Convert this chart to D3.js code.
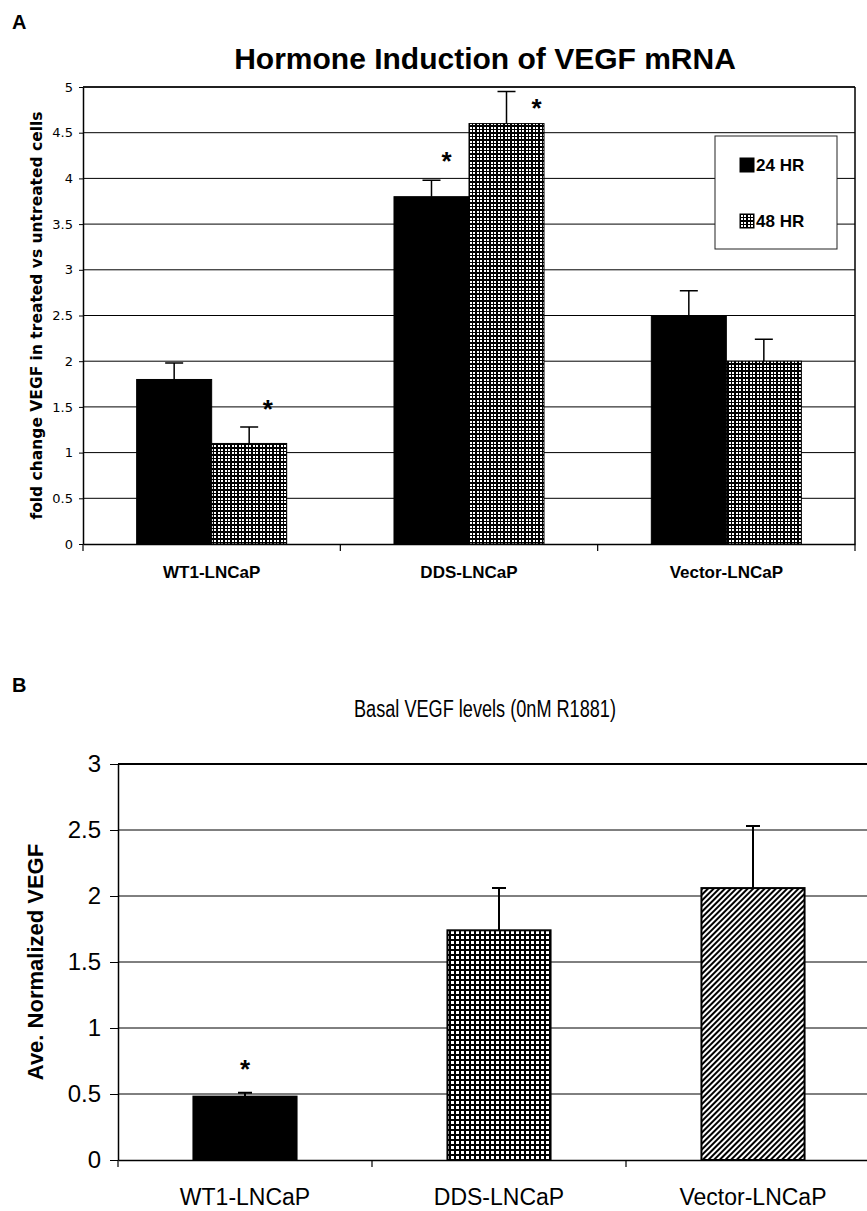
<!DOCTYPE html>
<html>
<head>
<meta charset="utf-8">
<script src="https://cdn.jsdelivr.net/npm/d3@7"></script>
<style>
body { margin: 0; background: #fff; }
svg { display: block; }
</style>
</head>
<body>
<div id="chart"></div>
<script>
// Dados - painel A
var groups = ["WT1-LNCaP", "DDS-LNCaP", "Vector-LNCaP"];
var series = ["24 HR", "48 HR"];
var hr24 = [1.8, 3.8, 2.5];
var hr24Err = [0.18, 0.18, 0.27];
var hr48 = [1.1, 4.6, 2.0];
var hr48Err = [0.18, 0.35, 0.24];
var yTicksA = [0, 0.5, 1, 1.5, 2, 2.5, 3, 3.5, 4, 4.5, 5];
var starGroupsA = ["WT1-LNCaP", "DDS-LNCaP", "DDS-LNCaP"];
var starSeriesA = ["48 HR", "24 HR", "48 HR"];
var starValuesA = [1.54, 4.25, 4.83];

// Dados - painel B
var basal = [0.48, 1.74, 2.06];
var basalErr = [0.03, 0.32, 0.47];
var yTicksB = [0, 0.5, 1, 1.5, 2, 2.5, 3];
var starGroupsB = ["WT1-LNCaP"];
var starValuesB = [0.73];

var svgWidth = 867, svgHeight = 1211;

var svg = d3.select("#chart").append("svg")
    .attr("width", svgWidth)
    .attr("height", svgHeight)
    .style("background", "#fff");

// Padroes
var defs = svg.append("defs");

var pA = defs.append("pattern").attr("id", "checkA")
    .attr("patternUnits", "userSpaceOnUse")
    .attr("width", 7).attr("height", 7);
pA.append("rect").attr("width", 7).attr("height", 7).attr("fill", "#000");
[[1, 1], [4, 1], [1, 4], [4, 4]].forEach(function (p) {
    pA.append("rect").attr("x", p[0]).attr("y", p[1])
        .attr("width", 2).attr("height", 2).attr("fill", "#fff");
});

var pB = defs.append("pattern").attr("id", "checkB")
    .attr("patternUnits", "userSpaceOnUse")
    .attr("width", 5).attr("height", 5);
pB.append("rect").attr("width", 5).attr("height", 5).attr("fill", "#000");
pB.append("rect").attr("x", 1).attr("y", 1).attr("width", 3).attr("height", 3).attr("fill", "#fff");

var pH = defs.append("pattern").attr("id", "hatchB")
    .attr("patternUnits", "userSpaceOnUse")
    .attr("width", 4).attr("height", 4)
    .attr("patternTransform", "rotate(45)");
pH.append("rect").attr("width", 4).attr("height", 4).attr("fill", "#fff");
pH.append("rect").attr("width", 2).attr("height", 4).attr("fill", "#000");

var fillA = { "24 HR": "#000", "48 HR": "url(#checkA)" };
var fillB = ["#000", "url(#checkB)", "url(#hatchB)"];

// ---------------- Painel A ----------------
var marginA = { top: 87, left: 83, right: 855, bottom: 544 };

svg.append("text")
    .attr("x", 12).attr("y", 29)
    .style("font-family", "Liberation Sans, Arial, sans-serif")
    .style("font-weight", "bold").style("font-size", "20px")
    .text("A");

svg.append("text")
    .attr("x", 485).attr("y", 69)
    .attr("text-anchor", "middle")
    .style("font-family", "Liberation Sans, Arial, sans-serif")
    .style("font-weight", "bold").style("font-size", "30px")
    .text("Hormone Induction of VEGF mRNA");

var xA = d3.scaleBand()
    .domain(groups)
    .range([marginA.left, marginA.right])
    .paddingInner(0.417)
    .paddingOuter(0.2085);

var xSubA = d3.scaleBand()
    .domain(series)
    .range([0, xA.bandwidth()]);

var yA = d3.scaleLinear()
    .domain([0, 5])
    .range([marginA.bottom, marginA.top]);

var gA = svg.append("g");

// grade
gA.selectAll("line.grid")
    .data(yTicksA.slice(1))
    .enter().append("line")
    .attr("class", "grid")
    .attr("x1", marginA.left).attr("x2", marginA.right)
    .attr("y1", d => yA(d)).attr("y2", d => yA(d))
    .attr("stroke", "#000").attr("stroke-width", 1);

// borda direita
gA.append("line")
    .attr("x1", marginA.right).attr("x2", marginA.right)
    .attr("y1", marginA.top).attr("y2", marginA.bottom)
    .attr("stroke", "#000").attr("stroke-width", 1.5);

// barras
var dataA = [];
groups.forEach(function (g, i) {
    dataA.push({ group: g, series: "24 HR", value: hr24[i], err: hr24Err[i] });
    dataA.push({ group: g, series: "48 HR", value: hr48[i], err: hr48Err[i] });
});

gA.selectAll("rect.bar")
    .data(dataA)
    .enter().append("rect")
    .attr("class", "bar")
    .attr("x", d => xA(d.group) + xSubA(d.series))
    .attr("y", d => yA(d.value))
    .attr("width", xSubA.bandwidth())
    .attr("height", d => yA(0) - yA(d.value))
    .attr("fill", d => fillA[d.series])
    .attr("stroke", "#000").attr("stroke-width", 1);

// barras de erro
gA.selectAll("path.err")
    .data(dataA)
    .enter().append("path")
    .attr("class", "err")
    .attr("fill", "none").attr("stroke", "#000").attr("stroke-width", 1.5)
    .attr("d", function (d) {
        var cx = xA(d.group) + xSubA(d.series) + xSubA.bandwidth() / 2;
        var top = yA(d.value + d.err);
        return `M ${cx},${yA(d.value)} L ${cx},${top} M ${cx - 9},${top} L ${cx + 9},${top}`;
    });

// asteriscos
var starShiftA = [0.75, 0.7, 0.9];
gA.selectAll("text.star")
    .data(starValuesA)
    .enter().append("text")
    .attr("class", "star")
    .attr("x", (d, i) => xA(starGroupsA[i]) + xSubA(starSeriesA[i]) + xSubA.bandwidth() * starShiftA[i])
    .attr("y", d => yA(d))
    .attr("dy", "0.57em")
    .attr("text-anchor", "middle")
    .style("font-family", "Liberation Sans, Arial, sans-serif")
    .style("font-weight", "bold").style("font-size", "26px")
    .text("*");

// eixo y
var axisA = gA.append("g")
    .attr("transform", "translate(" + marginA.left + ",0)")
    .call(d3.axisLeft(yA).tickValues(yTicksA).tickFormat(d3.format("~g"))
        .tickSize(4).tickSizeOuter(0).tickPadding(6));
axisA.select(".domain").attr("stroke-width", 1.5);
axisA.selectAll("text")
    .style("font-family", "DejaVu Sans, Verdana, sans-serif")
    .style("font-size", "13px").attr("fill", "#000");

// topo
gA.append("line")
    .attr("x1", marginA.left).attr("x2", marginA.right)
    .attr("y1", marginA.top).attr("y2", marginA.top)
    .attr("stroke", "#000").attr("stroke-width", 1.5);

// eixo x
var xAxisA = gA.append("g")
    .attr("transform", "translate(0," + marginA.bottom + ")")
    .call(d3.axisBottom(xA).tickSize(0).tickPadding(22));
xAxisA.select(".domain").attr("stroke-width", 1.5);
xAxisA.selectAll("text")
    .style("font-family", "Liberation Sans, Arial, sans-serif")
    .style("font-weight", "bold").style("font-size", "17px").attr("fill", "#000");

var boundsA = [marginA.left].concat(groups.map(g => xA(g) + xA.step() * 0.7915));
gA.selectAll("line.xtick")
    .data(boundsA)
    .enter().append("line")
    .attr("class", "xtick")
    .attr("x1", d => d).attr("x2", d => d)
    .attr("y1", marginA.bottom).attr("y2", marginA.bottom + 7)
    .attr("stroke", "#000").attr("stroke-width", 1.2);

gA.append("text")
    .attr("transform", "translate(37," + ((marginA.top + marginA.bottom) / 2) + ") rotate(-90)")
    .attr("dy", "0.35em")
    .attr("text-anchor", "middle")
    .style("font-family", "DejaVu Sans, Verdana, sans-serif")
    .style("font-weight", "bold").style("font-size", "15.5px")
    .text("fold change VEGF in treated vs untreated cells");

// legenda
var leg = gA.append("g");
leg.append("rect")
    .attr("x", 715).attr("y", 136).attr("width", 122).attr("height", 113)
    .attr("fill", "#fff").attr("stroke", "#222").attr("stroke-width", 1);
var legItems = leg.selectAll("g.item")
    .data(series)
    .enter().append("g")
    .attr("class", "item")
    .attr("transform", (d, i) => "translate(740," + (165 + i * 56) + ")");
legItems.append("rect")
    .attr("x", 0).attr("y", -7).attr("width", 14).attr("height", 14)
    .attr("fill", d => fillA[d]).attr("stroke", "#000").attr("stroke-width", 1);
legItems.append("text")
    .attr("x", 16).attr("dy", "0.36em")
    .style("font-family", "Liberation Sans, Arial, sans-serif")
    .style("font-weight", "bold").style("font-size", "17px")
    .text(d => d);

// ---------------- Painel B ----------------
var marginB = { top: 764, left: 118, right: 880, bottom: 1160 };

svg.append("text")
    .attr("x", 12).attr("y", 692)
    .style("font-family", "Liberation Sans, Arial, sans-serif")
    .style("font-weight", "bold").style("font-size", "20px")
    .text("B");

svg.append("text")
    .attr("x", 485).attr("y", 717)
    .attr("text-anchor", "middle")
    .attr("textLength", 262)
    .attr("lengthAdjust", "spacingAndGlyphs")
    .style("font-family", "Liberation Sans, Arial, sans-serif")
    .style("font-size", "23px")
    .text("Basal VEGF levels (0nM R1881)");

var xB = d3.scaleBand()
    .domain(groups)
    .range([marginB.left, marginB.right])
    .paddingInner(0.594)
    .paddingOuter(0.297);

var yB = d3.scaleLinear()
    .domain([0, 3])
    .range([marginB.bottom, marginB.top]);

var gB = svg.append("g");

gB.selectAll("line.grid")
    .data(yTicksB.slice(1))
    .enter().append("line")
    .attr("class", "grid")
    .attr("x1", marginB.left).attr("x2", marginB.right)
    .attr("y1", d => yB(d)).attr("y2", d => yB(d))
    .attr("stroke", "#000")
    .attr("stroke-width", d => d === 3 ? 2 : 1);

var dataB = groups.map((g, i) => ({ group: g, value: basal[i], err: basalErr[i], i: i }));

gB.selectAll("rect.bar")
    .data(dataB)
    .enter().append("rect")
    .attr("class", "bar")
    .attr("x", d => xB(d.group))
    .attr("y", d => yB(d.value))
    .attr("width", xB.bandwidth())
    .attr("height", d => yB(0) - yB(d.value))
    .attr("fill", d => fillB[d.i])
    .attr("stroke", "#000").attr("stroke-width", 2);

gB.selectAll("path.err")
    .data(dataB)
    .enter().append("path")
    .attr("class", "err")
    .attr("fill", "none").attr("stroke", "#000").attr("stroke-width", 2)
    .attr("d", function (d) {
        var cx = xB(d.group) + xB.bandwidth() / 2;
        var top = yB(d.value + d.err);
        return `M ${cx},${yB(d.value)} L ${cx},${top} M ${cx - 7},${top} L ${cx + 7},${top}`;
    });

gB.selectAll("text.star")
    .data(starValuesB)
    .enter().append("text")
    .attr("class", "star")
    .attr("x", (d, i) => xB(starGroupsB[i]) + xB.bandwidth() / 2)
    .attr("y", d => yB(d))
    .attr("dy", "0.57em")
    .attr("text-anchor", "middle")
    .style("font-family", "Liberation Sans, Arial, sans-serif")
    .style("font-weight", "bold").style("font-size", "26px")
    .text("*");

var axisB = gB.append("g")
    .attr("transform", "translate(" + marginB.left + ",0)")
    .call(d3.axisLeft(yB).tickValues(yTicksB).tickFormat(d3.format("~g"))
        .tickSize(8).tickSizeOuter(0).tickPadding(9));
axisB.select(".domain").attr("stroke-width", 1.5);
axisB.selectAll("text")
    .style("font-family", "Liberation Sans, Arial, sans-serif")
    .style("font-size", "24px").attr("fill", "#000");

var xAxisB = gB.append("g")
    .attr("transform", "translate(0," + marginB.bottom + ")")
    .call(d3.axisBottom(xB).tickSize(0).tickPadding(29));
xAxisB.select(".domain").attr("stroke-width", 1.5);
xAxisB.selectAll("text")
    .style("font-family", "Liberation Sans, Arial, sans-serif")
    .style("font-size", "23px").attr("fill", "#000");

var boundsB = [marginB.left].concat(groups.map(g => xB(g) + xB.step() * 0.703));
gB.selectAll("line.xtick")
    .data(boundsB)
    .enter().append("line")
    .attr("class", "xtick")
    .attr("x1", d => d).attr("x2", d => d)
    .attr("y1", marginB.bottom).attr("y2", marginB.bottom + 7)
    .attr("stroke", "#000").attr("stroke-width", 1.2);

gB.append("text")
    .attr("transform", "translate(35," + ((marginB.top + marginB.bottom) / 2) + ") rotate(-90)")
    .attr("dy", "0.35em")
    .attr("text-anchor", "middle")
    .style("font-family", "Liberation Sans, Arial, sans-serif")
    .style("font-weight", "bold").style("font-size", "22px")
    .text("Ave. Normalized VEGF");
</script>
</body>
</html>
